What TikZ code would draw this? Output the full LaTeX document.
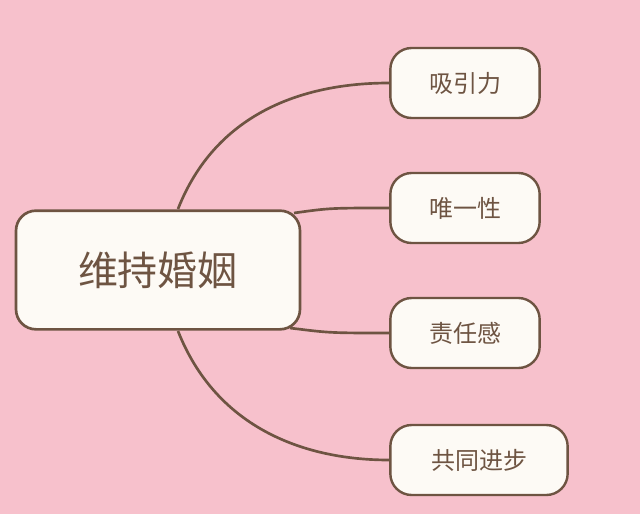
\documentclass[tikz,border=0pt]{standalone}
\usepackage{fontspec}
\setmainfont{Noto Sans CJK SC}
\definecolor{bg}{HTML}{F7C1CC}
\definecolor{br}{HTML}{6E5442}
\definecolor{bx}{HTML}{FDFAF5}
\begin{document}
\begin{tikzpicture}[x=0.75pt,y=-0.75pt,
  leaf/.style={draw=br,line width=1.8pt,fill=bx,rounded corners=16pt,minimum height=52.5pt,text=br,font=\fontsize{18}{20}\selectfont},
  link/.style={draw=br,line width=2pt}]
\fill[bg] (0,0) rectangle (640,514);
\useasboundingbox (0,0) rectangle (640,514);
\node[draw=br,line width=2pt,fill=bx,rounded corners=15pt,minimum width=213pt,minimum height=89pt,text=br,font=\fontsize{30}{34}\selectfont] (c) at (158,270) {维持婚姻};
\node[leaf,minimum width=112pt] (a) at (465,83) {吸引力};
\node[leaf,minimum width=112pt] (b) at (465,208) {唯一性};
\node[leaf,minimum width=112pt] (d) at (465,333) {责任感};
\node[leaf,minimum width=133pt] (e) at (479,460) {共同进步};
\coordinate (c1) at (178,209);
\coordinate (c2) at (294,213);
\coordinate (c3) at (290,328);
\coordinate (c4) at (178,331);
\draw[link] (c1) .. controls (215,115) and (300,83) .. (a.west);
\draw[link] (c2) .. controls (330,208) .. (b.west);
\draw[link] (c3) .. controls (330,333) .. (d.west);
\draw[link] (c4) .. controls (215,425) and (300,460) .. (e.west);
\end{tikzpicture}
\end{document}
